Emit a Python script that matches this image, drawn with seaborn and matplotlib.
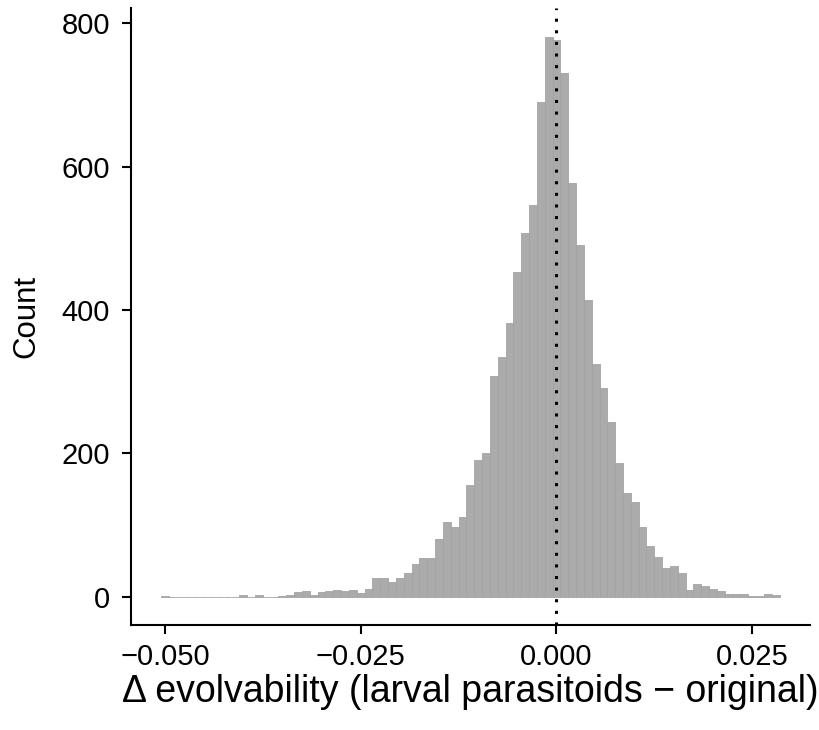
import numpy as np
import pandas as pd
import matplotlib
matplotlib.use("Agg")
import matplotlib.pyplot as plt
import matplotlib.ticker as mticker
import seaborn as sns

# bin centres (delta evolvability) and counts
bin_centres = [round(-0.050 + 0.001 * i, 3) for i in range(79)]
counts = [1, 0, 0, 0, 0, 0, 0, 0, 0, 0,
          3, 0, 3, 0, 0, 1, 3, 7, 8, 3,
          7, 8, 10, 8, 10, 6, 11, 26, 26, 21,
          26, 33, 46, 54, 54, 81, 104, 98, 111, 156,
          191, 201, 308, 334, 382, 453, 507, 546, 690, 780,
          776, 730, 577, 491, 414, 325, 291, 244, 187, 145,
          132, 98, 71, 56, 40, 43, 33, 10, 18, 15,
          11, 8, 4, 4, 4, 1, 1, 4, 3]
x_ticks = [-0.050, -0.025, 0.000, 0.025]
y_ticks = [0, 200, 400, 600, 800]

df = pd.DataFrame({"delta": bin_centres, "n": counts})

sns.set_theme(style="ticks")
plt.rcParams["font.family"] = ["Liberation Sans", "DejaVu Sans"]

fig = plt.figure(figsize=(8.2, 7.3), dpi=100)
ax = fig.add_axes([0.16, 0.144, 0.828, 0.845])

sns.histplot(data=df, x="delta", weights="n", binwidth=0.001,
             binrange=(-0.0505, 0.0285), color="#ABABAB", alpha=1,
             edgecolor="#A3A3A3", linewidth=0.6, ax=ax)

ax.axvline(0, color="black", linestyle=(0, (1, 2.8)), linewidth=2.2, zorder=5)

ax.set_xlim(-0.0543, 0.0324)
ax.set_ylim(-39, 821)
ax.set_xticks(x_ticks)
ax.set_yticks(y_ticks)
ax.xaxis.set_major_formatter(mticker.FuncFormatter(lambda v, p: f"{v:.3f}".replace("-", "\u2212")))

for side in ["top", "right"]:
    ax.spines[side].set_visible(False)
for side in ["left", "bottom"]:
    ax.spines[side].set_linewidth(1.5)
    ax.spines[side].set_color("black")

ax.tick_params(axis="both", which="major", direction="out", length=6.5,
               width=1.5, color="black", labelsize=21, labelcolor="black")
ax.tick_params(axis="x", pad=6.5)
ax.tick_params(axis="y", pad=8.6)

ax.set_xlabel("\u0394 evolvability (larval parasitoids \u2212 original)", fontsize=27,
              color="black")
ax.set_ylabel("Count", fontsize=22.5, color="black")
ax.xaxis.set_label_coords(0.5, -0.08)
ax.yaxis.set_label_coords(-0.132, 0.5)

fig.savefig("out.png", dpi=100)
